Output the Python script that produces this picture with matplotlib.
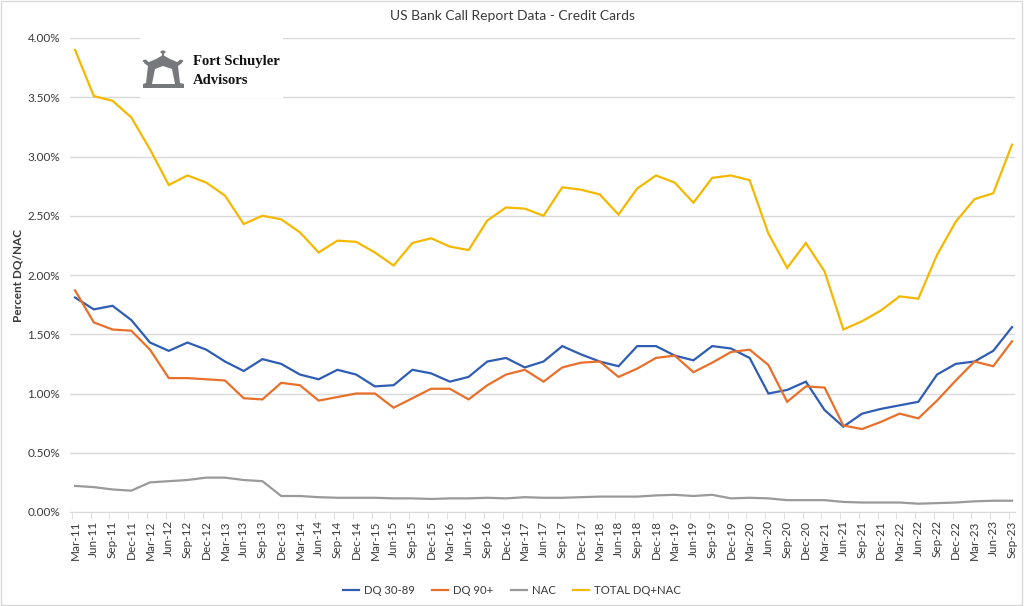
import numpy as np
import matplotlib.pyplot as plt
from matplotlib.patches import Polygon, Rectangle, Circle

# Quarter labels Mar-11 .. Sep-23
quarters = ["Mar-11", "Jun-11", "Sep-11", "Dec-11", "Mar-12", "Jun-12", "Sep-12", "Dec-12",
            "Mar-13", "Jun-13", "Sep-13", "Dec-13", "Mar-14", "Jun-14", "Sep-14", "Dec-14",
            "Mar-15", "Jun-15", "Sep-15", "Dec-15", "Mar-16", "Jun-16", "Sep-16", "Dec-16",
            "Mar-17", "Jun-17", "Sep-17", "Dec-17", "Mar-18", "Jun-18", "Sep-18", "Dec-18",
            "Mar-19", "Jun-19", "Sep-19", "Dec-19", "Mar-20", "Jun-20", "Sep-20", "Dec-20",
            "Mar-21", "Jun-21", "Sep-21", "Dec-21", "Mar-22", "Jun-22", "Sep-22", "Dec-22",
            "Mar-23", "Jun-23", "Sep-23"]

# values in percent
dq_30_89 = [1.81, 1.71, 1.74, 1.62, 1.43, 1.36, 1.43, 1.37, 1.27, 1.19, 1.29, 1.25,
            1.16, 1.12, 1.20, 1.16, 1.06, 1.07, 1.20, 1.17, 1.10, 1.14, 1.27, 1.30,
            1.22, 1.27, 1.40, 1.33, 1.27, 1.23, 1.40, 1.40, 1.32, 1.28, 1.40, 1.38,
            1.30, 1.00, 1.03, 1.10, 0.86, 0.72, 0.83, 0.87, 0.90, 0.93, 1.16, 1.25,
            1.27, 1.36, 1.56]

dq_90 = [1.87, 1.60, 1.54, 1.53, 1.37, 1.13, 1.13, 1.12, 1.11, 0.96, 0.95, 1.09,
         1.07, 0.94, 0.97, 1.00, 1.00, 0.88, 0.96, 1.04, 1.04, 0.95, 1.07, 1.16,
         1.20, 1.10, 1.22, 1.26, 1.27, 1.14, 1.21, 1.30, 1.32, 1.18, 1.26, 1.35,
         1.37, 1.24, 0.93, 1.06, 1.05, 0.73, 0.70, 0.76, 0.83, 0.79, 0.94, 1.11,
         1.27, 1.23, 1.44]

nac = [0.22, 0.21, 0.19, 0.18, 0.25, 0.26, 0.27, 0.29, 0.29, 0.27, 0.26, 0.135,
       0.135, 0.125, 0.12, 0.12, 0.12, 0.115, 0.115, 0.11, 0.115, 0.115, 0.12, 0.115,
       0.125, 0.12, 0.12, 0.125, 0.13, 0.13, 0.13, 0.14, 0.145, 0.135, 0.145, 0.115,
       0.12, 0.115, 0.10, 0.10, 0.10, 0.085, 0.08, 0.08, 0.08, 0.07, 0.075, 0.08,
       0.09, 0.095, 0.095]

total = [3.90, 3.51, 3.47, 3.33, 3.06, 2.76, 2.84, 2.78, 2.67, 2.43, 2.50, 2.47,
         2.36, 2.19, 2.29, 2.28, 2.19, 2.08, 2.27, 2.31, 2.24, 2.21, 2.46, 2.57,
         2.56, 2.50, 2.74, 2.72, 2.68, 2.51, 2.73, 2.84, 2.78, 2.61, 2.82, 2.84,
         2.80, 2.35, 2.06, 2.27, 2.03, 1.54, 1.61, 1.70, 1.82, 1.80, 2.17, 2.45,
         2.64, 2.69, 3.10]

series = [("DQ 30-89", dq_30_89, "#2F5DB3"),
          ("DQ 90+", dq_90, "#E8702A"),
          ("NAC", nac, "#9A9A9A"),
          ("TOTAL DQ+NAC", total, "#F5B800")]

plt.rcParams['font.family'] = ['Lato', 'DejaVu Sans']
txt_col = "#3A3A3A"

fig = plt.figure(figsize=(10.24, 6.06), dpi=100)
ax = fig.add_axes([70 / 1024, 1 - 512 / 606, 945 / 1024, 474 / 606])

x = np.arange(len(quarters))
for name, vals, col in series:
    ax.plot(x, vals, color=col, lw=1.6, label=name, solid_joinstyle="miter")

ax.set_xlim(-0.27, 50.16)
ax.set_ylim(0, 4.0)
ax.set_yticks(np.arange(0, 4.01, 0.5))
ax.set_yticklabels([f"{v:.2f}%" for v in np.arange(0, 4.01, 0.5)], color=txt_col, fontsize=8.5)
ax.grid(axis="y", color="#D9D9D9", lw=1)
ax.set_axisbelow(True)

ax.set_xticks(x)
ax.set_xticklabels(quarters, rotation=90, color=txt_col, fontsize=8.5)
ax.tick_params(axis="x", length=0, pad=6)
ax.set_xticks(x - 0.17, minor=True)
ax.tick_params(axis="x", which="minor", length=5, color="#D9D9D9")
ax.tick_params(axis="y", length=0, pad=7)

for s in ["top", "right", "left"]:
    ax.spines[s].set_visible(False)
ax.spines["bottom"].set_color("#D9D9D9")

ax.set_ylabel("Percent DQ/NAC", fontsize=8.5, fontweight="bold", color=txt_col, labelpad=3)
fig.text(0.5, 1 - 16 / 606, "US Bank Call Report Data - Credit Cards", ha="center", va="center",
         fontsize=10, color=txt_col)

ax.legend(loc="center", bbox_to_anchor=(512 / 1024, 1 - 590 / 606), bbox_transform=fig.transFigure,
          ncol=4, frameon=False, fontsize=8.2, handlelength=1.4, handletextpad=0.45,
          columnspacing=1.5, labelcolor=txt_col)

# logo block (pixel coords, converted to figure fraction)
def fpt(px, py):
    return (px / 1024, 1 - py / 606)

fig.patches.append(Rectangle(fpt(140, 98), 143 / 1024, 60 / 606,
                             transform=fig.transFigure, facecolor="white", edgecolor="none", zorder=3))
logo_col = "#77787B"
outer = [(143, 88), (184, 88), (184, 84), (180, 83), (178, 66), (182, 63), (181, 60), (177, 62),
         (170, 59), (163, 55), (156, 59), (149, 62), (145, 60), (144, 63), (148, 66), (146, 83),
         (143, 84)]
inner = [(152, 84), (175, 84), (172, 69), (163, 66), (155, 69)]
fig.patches.append(Polygon([fpt(*p) for p in outer], closed=True, transform=fig.transFigure,
                           facecolor=logo_col, edgecolor="none", zorder=4))
fig.patches.append(Polygon([fpt(*p) for p in inner], closed=True, transform=fig.transFigure,
                           facecolor="white", edgecolor="none", zorder=5))
fig.patches.append(Rectangle(fpt(162, 56), 2 / 1024, 5 / 606, transform=fig.transFigure,
                             facecolor=logo_col, edgecolor="none", zorder=4))
fig.patches.append(Circle(fpt(163, 52), 2.6 / 1024, transform=fig.transFigure,
                          facecolor=logo_col, edgecolor="none", zorder=4))
for cx in (145, 181):
    fig.patches.append(Circle(fpt(cx, 61), 2.2 / 1024, transform=fig.transFigure,
                              facecolor=logo_col, edgecolor="none", zorder=4))
fig.text(193 / 1024, 1 - 62 / 606, "Fort Schuyler", fontsize=10.5, fontweight="bold",
         family=["Liberation Serif", "DejaVu Serif"], va="center", color="#111111", zorder=6)
fig.text(193 / 1024, 1 - 81 / 606, "Advisors", fontsize=10.5, fontweight="bold",
         family=["Liberation Serif", "DejaVu Serif"], va="center", color="#111111", zorder=6)

# chart border
fig.patches.append(Rectangle((0.001, 0.001), 0.997, 0.997, transform=fig.transFigure,
                             facecolor="none", edgecolor="#D9D9D9", lw=1))

fig.savefig("out.png", dpi=100)
